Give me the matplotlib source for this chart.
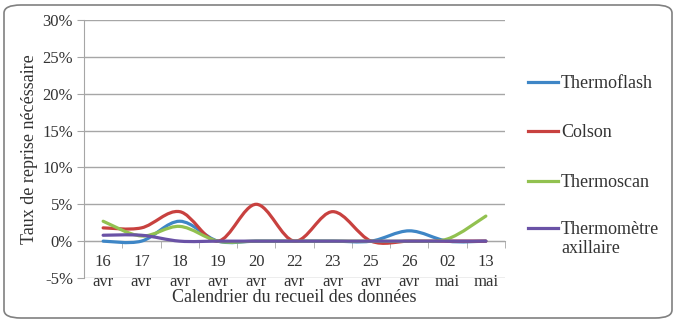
import numpy as np
import matplotlib
matplotlib.use('Agg')
import matplotlib.pyplot as plt
from matplotlib.path import Path
from matplotlib.patches import PathPatch, FancyBboxPatch
from matplotlib.lines import Line2D

plt.rcParams['font.family'] = ['Liberation Serif', 'DejaVu Serif']

# data (percent)
dates = ['16\navr', '17\navr', '18\navr', '19\navr', '20\navr', '22\navr',
         '23\navr', '25\navr', '26\navr', '02\nmai', '13\nmai']
thermoflash = [0, 0, 2.7, 0, 0, 0, 0, 0, 1.4, 0, 0]
colson = [1.8, 1.8, 4.0, 0, 5.0, 0, 4.0, 0, 0, 0, 0]
thermoscan = [2.7, 0.7, 2.0, 0, 0, 0, 0, 0, 0, 0.3, 3.4]
axillaire = [0.8, 0.8, 0, 0, 0, 0, 0, 0, 0, 0, 0]

series = [('Thermoflash', thermoflash, '#3E86C6'),
          ('Colson', colson, '#C8413F'),
          ('Thermoscan', thermoscan, '#92C150'),
          ('Thermomètre\naxillaire', axillaire, '#6A52A6')]

txt = '#333333'


def smooth_path(x, y):
    # excel-like smoothed line: cubic bezier with catmull-rom control points
    pts = np.column_stack([x, y]).astype(float)
    n = len(pts)
    verts = [pts[0]]
    codes = [Path.MOVETO]
    for i in range(n - 1):
        p0 = pts[i - 1] if i > 0 else pts[i]
        p1 = pts[i]
        p2 = pts[i + 1]
        p3 = pts[i + 2] if i + 2 < n else pts[i + 1]
        c1 = p1 + (p2 - p0) / 6
        c2 = p2 - (p3 - p1) / 6
        verts += [c1, c2, p2]
        codes += [Path.CURVE4] * 3
    return Path(verts, codes)


fig = plt.figure(figsize=(6.76, 3.22), dpi=100)
ax = fig.add_axes([84 / 676, 1 - 278 / 322, 421 / 676, 258 / 322])

x = np.arange(len(dates))
for name, vals, col in series:
    ax.add_patch(PathPatch(smooth_path(x, vals), facecolor='none', edgecolor=col,
                           lw=2.3, capstyle='round', zorder=3))

ax.set_xlim(-0.5, len(dates) - 0.5)
ax.set_ylim(-5, 30)
ax.set_yticks(np.arange(-5, 31, 5))
ax.set_yticklabels([f'{v}%' for v in range(-5, 31, 5)], fontsize=12, color=txt)
ax.yaxis.grid(True, color='#A6A6A6', lw=1)
ax.set_axisbelow(True)

for s in ['top', 'right']:
    ax.spines[s].set_visible(False)
ax.spines['left'].set_color('#A6A6A6')
ax.spines['bottom'].set_color('#A6A6A6')
ax.spines['bottom'].set_position(('data', 0))

ax.set_xticks(x)
ax.set_xticklabels(dates, fontsize=12, color=txt, linespacing=1.35)
ax.set_xticks(np.arange(-0.5, len(dates), 1), minor=True)
ax.tick_params(axis='x', which='major', length=0, pad=9)
ax.tick_params(axis='x', which='minor', length=5, color='#A6A6A6', direction='out')
ax.tick_params(axis='y', length=5, color='#A6A6A6', pad=3)

ax.set_ylabel('Taux de reprise nécéssaire', fontsize=13, color=txt, labelpad=3)
fig.text((84 + 421 / 2) / 676, 1 - 298 / 322, 'Calendrier du recueil des données',
         fontsize=13, color=txt, ha='center', va='center')

# legend on the right
leg_y = [82, 131, 181, 228]
for (name, vals, col), yy in zip(series, leg_y):
    fy = 1 - yy / 322
    fig.add_artist(Line2D([528 / 676, 558 / 676], [fy, fy], color=col, lw=2.3,
                          transform=fig.transFigure))
    fig.text(561 / 676, fy + 7 / 322, name, fontsize=13, color=txt, va='top',
             linespacing=1.15, transform=fig.transFigure)

# rounded frame
fig.add_artist(FancyBboxPatch((4 / 676, 4 / 322), 668 / 676, 313 / 322,
                              boxstyle='round,pad=0,rounding_size=0.025',
                              transform=fig.transFigure, facecolor='none',
                              edgecolor='#808080', lw=1.2))

fig.savefig('out.png', dpi=100)
